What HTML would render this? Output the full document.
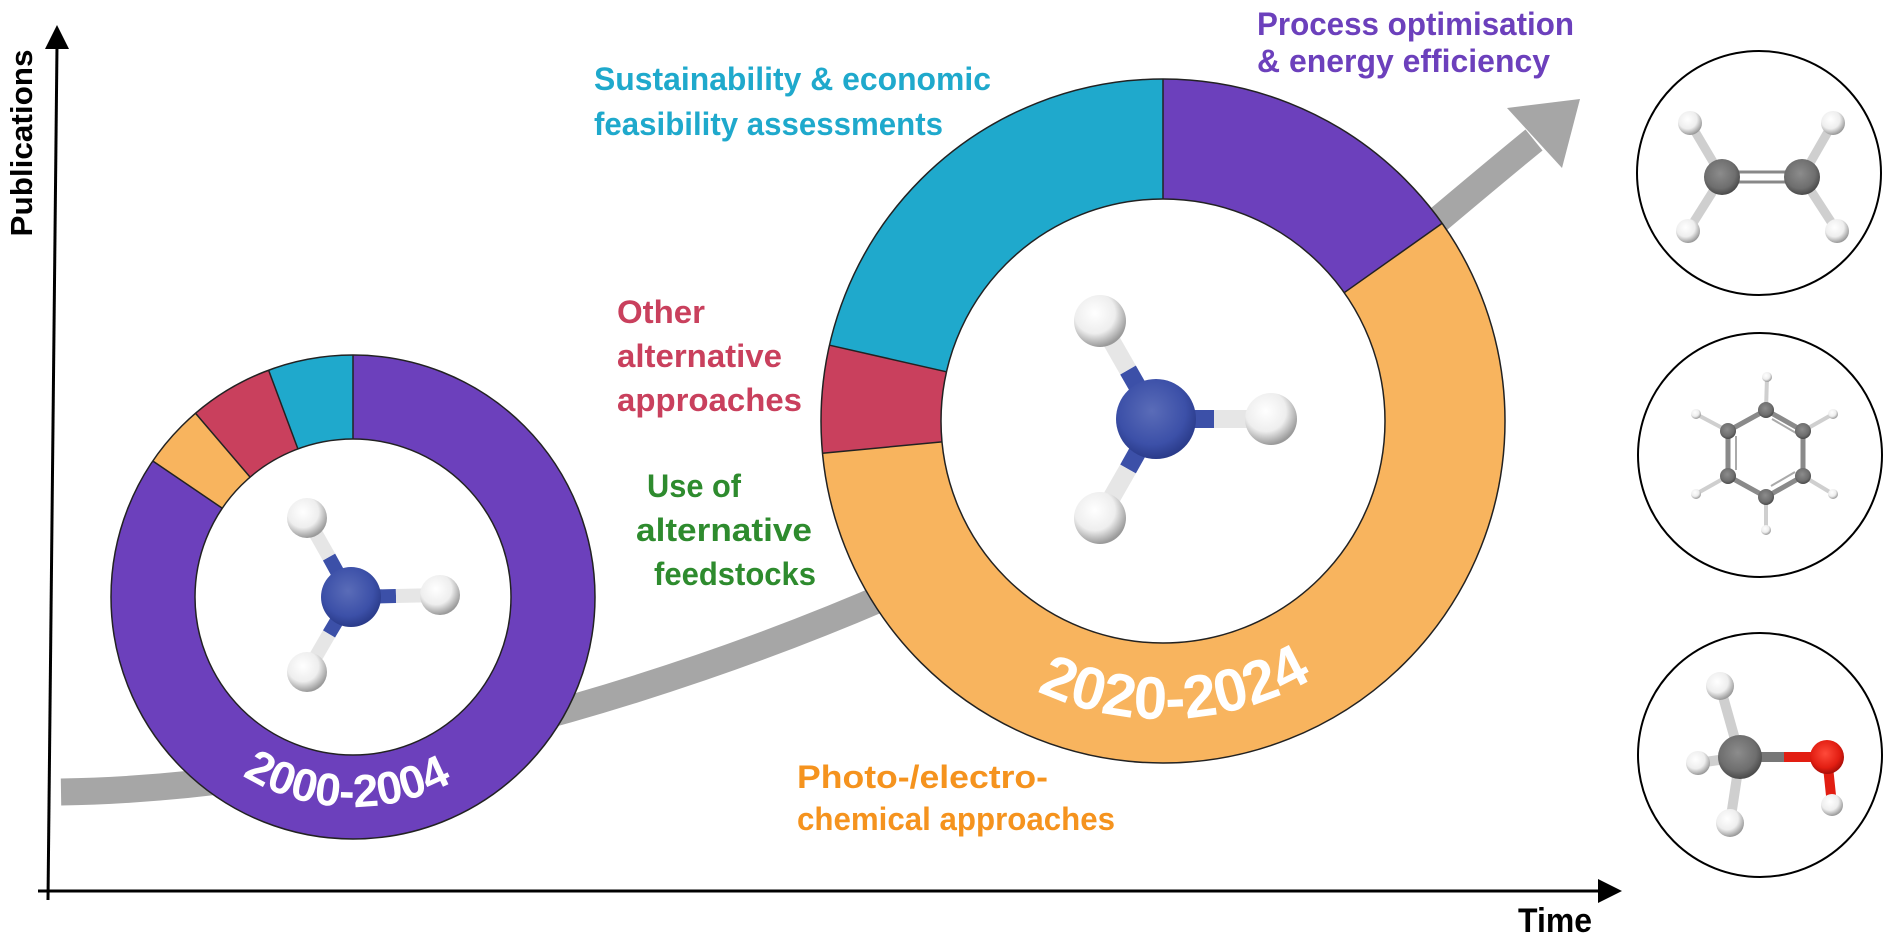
<!DOCTYPE html>
<html><head><meta charset="utf-8"><style>
html,body{margin:0;padding:0;background:#fff;}
svg{display:block;}
text{font-family:"Liberation Sans",sans-serif;font-weight:bold;}
</style></head><body>
<svg width="1890" height="939" viewBox="0 0 1890 939" xmlns="http://www.w3.org/2000/svg">
<defs>
<radialGradient id="gH" cx="40%" cy="35%" r="65%"><stop offset="0" stop-color="#ffffff"/><stop offset="0.6" stop-color="#eeeeee"/><stop offset="1" stop-color="#9a9a9a"/></radialGradient>
<radialGradient id="gN" cx="45%" cy="40%" r="60%"><stop offset="0" stop-color="#5a6cb8"/><stop offset="0.7" stop-color="#3c50a8"/><stop offset="1" stop-color="#2a3b8a"/></radialGradient>
<radialGradient id="gC" cx="45%" cy="40%" r="60%"><stop offset="0" stop-color="#8c8c8c"/><stop offset="0.7" stop-color="#6e6e6e"/><stop offset="1" stop-color="#4a4a4a"/></radialGradient>
<radialGradient id="gO" cx="45%" cy="40%" r="60%"><stop offset="0" stop-color="#ff4a3a"/><stop offset="0.7" stop-color="#e21e12"/><stop offset="1" stop-color="#a80e08"/></radialGradient>
<path id="pSmall" d="M143,597 A210,210 0 0 0 563,597"/>
<path id="pBig" d="M865,421 A298,298 0 0 0 1461,421"/>
</defs>

<!-- axes -->
<line x1="57" y1="45" x2="48" y2="900" stroke="#000" stroke-width="3"/>
<polygon points="57,25 45,49 69,49" fill="#000"/>
<line x1="38" y1="891" x2="1602" y2="891" stroke="#000" stroke-width="3"/>
<polygon points="1622,891 1598,879 1598,903" fill="#000"/>
<text transform="translate(32,143) rotate(-90)" text-anchor="middle" font-size="31" textLength="187" lengthAdjust="spacingAndGlyphs" fill="#000">Publications</text>
<text x="1518" y="932" font-size="34" textLength="74" lengthAdjust="spacingAndGlyphs" fill="#000">Time</text>

<!-- gray growth arrow -->
<path d="M61,792 C330,788 650,700 900,590 C1150,480 1350,290 1534,140" fill="none" stroke="#a6a6a6" stroke-width="27"/>
<polygon points="1580,99 1507,108 1562,168" fill="#a6a6a6"/>

<!-- small donut -->
<g transform="translate(353,597) rotate(-90)">
<circle r="200" fill="none" stroke="#6c40bc" stroke-width="84"/>
<circle r="200" fill="none" stroke="#f8b45e" stroke-width="84" stroke-dasharray="53.06 2000" stroke-dashoffset="-1061.8"/>
<circle r="200" fill="none" stroke="#c9405d" stroke-width="84" stroke-dasharray="70.5 2000" stroke-dashoffset="-1114.9"/>
<circle r="200" fill="none" stroke="#1fa9cc" stroke-width="84" stroke-dasharray="71.7 2000" stroke-dashoffset="-1185.4"/>
</g>
<circle cx="353" cy="597" r="242" fill="none" stroke="#222" stroke-width="1.5"/>
<circle cx="353" cy="597" r="158" fill="#fff" stroke="#222" stroke-width="1.5"/>
<g stroke="#222" stroke-width="1.5">
<line x1="353" y1="355" x2="353" y2="439"/>
<line x1="152.8" y1="461" x2="222.3" y2="508.2"/>
<line x1="195.5" y1="413.3" x2="250.1" y2="477.1"/>
<line x1="268.6" y1="370.2" x2="297.9" y2="448.9"/>
</g>
<text font-size="46" fill="#fff"><textPath href="#pSmall" startOffset="49%" text-anchor="middle">2000-2004</textPath></text>

<!-- big donut -->
<g transform="translate(1163,421) rotate(-90)">
<circle r="282" fill="none" stroke="#f8b45e" stroke-width="120"/>
<circle r="282" fill="none" stroke="#6c40bc" stroke-width="120" stroke-dasharray="269.2 3000" stroke-dashoffset="0"/>
<circle r="282" fill="none" stroke="#c9405d" stroke-width="120" stroke-dasharray="89.6 3000" stroke-dashoffset="-1302.3"/>
<circle r="282" fill="none" stroke="#1fa9cc" stroke-width="120" stroke-dasharray="380.5 3000" stroke-dashoffset="-1391.9"/>
</g>
<circle cx="1163" cy="421" r="342" fill="none" stroke="#222" stroke-width="1.5"/>
<circle cx="1163" cy="421" r="222" fill="#fff" stroke="#222" stroke-width="1.5"/>
<g stroke="#222" stroke-width="1.5">
<line x1="1163" y1="79" x2="1163" y2="199"/>
<line x1="1442.1" y1="223.4" x2="1344.2" y2="292.7"/>
<line x1="822.5" y1="453.2" x2="942" y2="441.9"/>
<line x1="829.5" y1="345.2" x2="946.5" y2="371.8"/>
</g>
<text font-size="60" fill="#fff"><textPath href="#pBig" startOffset="51.4%" text-anchor="middle">2020-2024</textPath></text>

<!-- NH3 small -->
<g stroke-width="14" stroke-linecap="butt">
<line x1="351" y1="597" x2="329" y2="557" stroke="#3c50a8"/><line x1="329" y1="557" x2="307" y2="518" stroke="#e6e6e6"/>
<line x1="351" y1="597" x2="396" y2="596" stroke="#3c50a8"/><line x1="396" y1="596" x2="440" y2="595" stroke="#e6e6e6"/>
<line x1="351" y1="597" x2="329" y2="634" stroke="#3c50a8"/><line x1="329" y1="634" x2="307" y2="672" stroke="#e6e6e6"/>
</g>
<circle cx="307" cy="518" r="20" fill="url(#gH)"/>
<circle cx="440" cy="595" r="20" fill="url(#gH)"/>
<circle cx="307" cy="672" r="20" fill="url(#gH)"/>
<circle cx="351" cy="597" r="30" fill="url(#gN)"/>

<!-- NH3 big -->
<g stroke-width="18">
<line x1="1156" y1="419" x2="1128" y2="370" stroke="#3c50a8"/><line x1="1128" y1="370" x2="1100" y2="321" stroke="#e6e6e6"/>
<line x1="1156" y1="419" x2="1214" y2="419" stroke="#3c50a8"/><line x1="1214" y1="419" x2="1271" y2="419" stroke="#e6e6e6"/>
<line x1="1156" y1="419" x2="1128" y2="469" stroke="#3c50a8"/><line x1="1128" y1="469" x2="1100" y2="518" stroke="#e6e6e6"/>
</g>
<circle cx="1100" cy="321" r="26" fill="url(#gH)"/>
<circle cx="1271" cy="419" r="26" fill="url(#gH)"/>
<circle cx="1100" cy="518" r="26" fill="url(#gH)"/>
<circle cx="1156" cy="419" r="40" fill="url(#gN)"/>

<!-- molecule circles -->
<circle cx="1759" cy="173" r="122" fill="#fff" stroke="#000" stroke-width="2"/>
<circle cx="1760" cy="455" r="122" fill="#fff" stroke="#000" stroke-width="2"/>
<circle cx="1760" cy="755" r="122" fill="#fff" stroke="#000" stroke-width="2"/>

<!-- ethylene -->
<g stroke="#cfcfcf" stroke-width="9">
<line x1="1722" y1="177" x2="1690" y2="123"/><line x1="1722" y1="177" x2="1688" y2="231"/>
<line x1="1802" y1="177" x2="1833" y2="123"/><line x1="1802" y1="177" x2="1837" y2="231"/>
</g>
<g stroke="#888" stroke-width="3"><line x1="1722" y1="172" x2="1802" y2="172"/><line x1="1722" y1="182" x2="1802" y2="182"/></g>
<circle cx="1690" cy="123" r="12" fill="url(#gH)"/><circle cx="1833" cy="123" r="12" fill="url(#gH)"/>
<circle cx="1688" cy="231" r="12" fill="url(#gH)"/><circle cx="1837" cy="231" r="12" fill="url(#gH)"/>
<circle cx="1722" cy="177" r="18" fill="url(#gC)"/><circle cx="1802" cy="177" r="18" fill="url(#gC)"/>

<!-- benzene -->
<g stroke="#cfcfcf" stroke-width="4">
<line x1="1766" y1="410" x2="1767" y2="377"/><line x1="1803" y1="431" x2="1833" y2="414"/>
<line x1="1803" y1="476" x2="1833" y2="494"/><line x1="1766" y1="497" x2="1766" y2="530"/>
<line x1="1728" y1="476" x2="1696" y2="494"/><line x1="1728" y1="431" x2="1696" y2="414"/>
</g>
<polygon points="1766,410 1803,431 1803,476 1766,497 1728,476 1728,431" fill="none" stroke="#8a8a8a" stroke-width="5"/>
<g stroke="#aaa" stroke-width="2" fill="none"><line x1="1772" y1="419" x2="1796" y2="433"/><line x1="1795" y1="472" x2="1771" y2="486"/><line x1="1736" y1="436" x2="1736" y2="470"/></g>
<g fill="url(#gH)"><circle cx="1767" cy="377" r="5"/><circle cx="1833" cy="414" r="5"/><circle cx="1833" cy="494" r="5"/><circle cx="1766" cy="530" r="5"/><circle cx="1696" cy="494" r="5"/><circle cx="1696" cy="414" r="5"/></g>
<g fill="url(#gC)"><circle cx="1766" cy="410" r="8"/><circle cx="1803" cy="431" r="8"/><circle cx="1803" cy="476" r="8"/><circle cx="1766" cy="497" r="8"/><circle cx="1728" cy="476" r="8"/><circle cx="1728" cy="431" r="8"/></g>

<!-- methanol -->
<g stroke-width="10">
<line x1="1740" y1="757" x2="1720" y2="686" stroke="#cfcfcf"/>
<line x1="1740" y1="757" x2="1698" y2="763" stroke="#cfcfcf"/>
<line x1="1740" y1="757" x2="1730" y2="823" stroke="#cfcfcf"/>
<line x1="1740" y1="757" x2="1784" y2="757" stroke="#777"/><line x1="1784" y1="757" x2="1827" y2="757" stroke="#e21e12"/>
<line x1="1827" y1="757" x2="1832" y2="805" stroke="#e21e12"/>
</g>
<circle cx="1720" cy="686" r="14" fill="url(#gH)"/>
<circle cx="1698" cy="763" r="12" fill="url(#gH)"/>
<circle cx="1730" cy="823" r="14" fill="url(#gH)"/>
<circle cx="1832" cy="805" r="11" fill="url(#gH)"/>
<circle cx="1740" cy="757" r="22" fill="url(#gC)"/>
<circle cx="1827" cy="757" r="17" fill="url(#gO)"/>

<!-- labels -->
<g font-size="32" lengthAdjust="spacingAndGlyphs">
<text x="594" y="90" fill="#1fa9cc" textLength="397" lengthAdjust="spacingAndGlyphs">Sustainability &amp; economic</text>
<text x="594" y="135" fill="#1fa9cc" textLength="349" lengthAdjust="spacingAndGlyphs">feasibility assessments</text>
<text x="1257" y="35" fill="#6c40bc" textLength="317" lengthAdjust="spacingAndGlyphs">Process optimisation</text>
<text x="1257" y="72" fill="#6c40bc" textLength="293" lengthAdjust="spacingAndGlyphs">&amp; energy efficiency</text>
<text x="617" y="323" fill="#c9405d" textLength="88" lengthAdjust="spacingAndGlyphs">Other</text>
<text x="617" y="367" fill="#c9405d" textLength="165" lengthAdjust="spacingAndGlyphs">alternative</text>
<text x="617" y="411" fill="#c9405d" textLength="185" lengthAdjust="spacingAndGlyphs">approaches</text>
<text x="647" y="497" fill="#2e8b2e" textLength="94" lengthAdjust="spacingAndGlyphs">Use of</text>
<text x="636" y="541" fill="#2e8b2e" textLength="176" lengthAdjust="spacingAndGlyphs">alternative</text>
<text x="654" y="585" fill="#2e8b2e" textLength="162" lengthAdjust="spacingAndGlyphs">feedstocks</text>
<text x="797" y="788" fill="#f5931e" textLength="251" lengthAdjust="spacingAndGlyphs">Photo-/electro-</text>
<text x="797" y="830" fill="#f5931e" textLength="318" lengthAdjust="spacingAndGlyphs">chemical approaches</text>
</g>
</svg>
</body></html>
